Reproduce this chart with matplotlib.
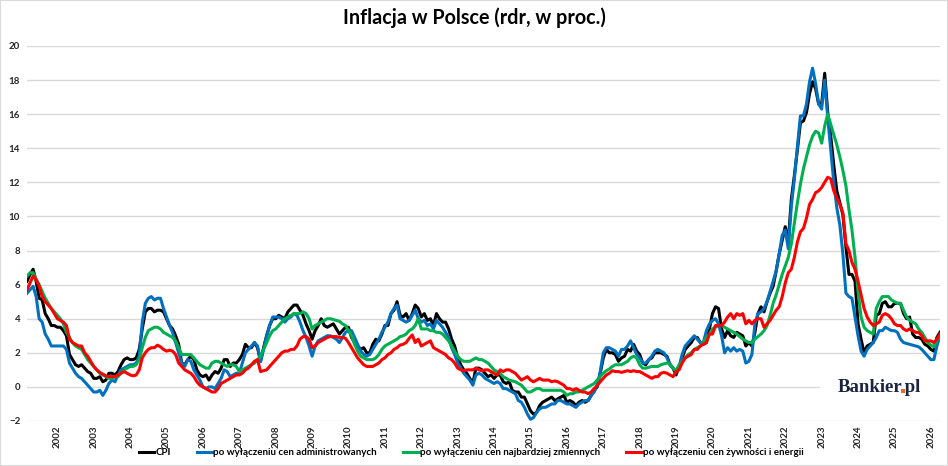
import numpy as np
import matplotlib.pyplot as plt
from matplotlib.patches import Rectangle
from matplotlib.textpath import TextPath
from matplotlib.font_manager import FontProperties

plt.rcParams['font.family'] = ['Lato', 'DejaVu Sans']
plt.rcParams['font.weight'] = 'bold'

# dane miesięczne od 03.2001 do 04.2026 (rdr, %)
cpi = [6.2, 6.6, 6.9, 6.2, 5.2, 5.1, 4.3, 4.0, 3.6, 3.6,
       3.5, 3.5, 3.3, 3.0, 1.9, 1.6, 1.3, 1.2, 1.3, 1.1, 0.9, 0.8,
       0.5, 0.5, 0.6, 0.3, 0.4, 0.8, 0.8, 0.7, 0.9, 1.3, 1.6, 1.7,
       1.6, 1.6, 1.7, 2.2, 3.4, 4.4, 4.6, 4.6, 4.4, 4.5, 4.5, 4.4,
       4.0, 3.6, 3.4, 3.0, 2.5, 1.4, 1.3, 1.6, 1.8, 1.6, 1.0, 0.7,
       0.6, 0.7, 0.4, 0.7, 0.9, 0.8, 1.1, 1.6, 1.6, 1.2, 1.4, 1.4,
       1.6, 1.9, 2.5, 2.3, 2.3, 2.6, 2.3, 1.5, 2.3, 3.0, 3.6, 4.0,
       4.0, 4.2, 4.1, 4.0, 4.4, 4.6, 4.8, 4.8, 4.5, 4.2, 3.7, 3.3,
       2.8, 3.3, 3.6, 4.0, 3.6, 3.5, 3.6, 3.7, 3.4, 3.1, 3.3, 3.5,
       3.5, 2.9, 2.6, 2.4, 2.2, 2.3, 2.0, 2.0, 2.5, 2.8, 2.7, 3.1,
       3.6, 3.6, 4.3, 4.5, 5.0, 4.2, 4.1, 4.3, 3.9, 4.3, 4.8, 4.6,
       4.1, 4.3, 3.9, 4.0, 3.6, 4.3, 4.0, 3.8, 3.8, 3.4, 2.8, 2.4,
       1.7, 1.3, 1.0, 0.8, 0.5, 0.2, 1.1, 1.1, 1.0, 0.8, 0.6, 0.7,
       0.5, 0.7, 0.7, 0.3, 0.2, 0.3, -0.2, -0.3, -0.3, -0.6, -0.6, -1.0,
       -1.4, -1.6, -1.5, -1.1, -0.9, -0.8, -0.7, -0.6, -0.8, -0.7, -0.6, -0.5,
       -0.9, -0.8, -0.9, -1.1, -0.9, -0.8, -0.9, -0.8, -0.5, -0.2, 0.0, 0.8,
       1.7, 2.2, 2.0, 2.0, 1.9, 1.5, 1.7, 1.8, 2.2, 2.1, 2.5, 2.1,
       1.9, 1.4, 1.3, 1.6, 1.7, 2.0, 2.0, 2.0, 1.9, 1.8, 1.3, 1.1,
       0.7, 1.2, 1.7, 2.2, 2.4, 2.6, 2.9, 2.9, 2.6, 2.5, 2.6, 3.4,
       4.3, 4.7, 4.6, 3.4, 2.9, 3.3, 3.0, 2.9, 3.2, 3.1, 3.0, 2.4,
       2.6, 2.4, 3.2, 4.3, 4.7, 4.4, 5.0, 5.5, 5.9, 6.8, 7.8, 8.6,
       9.4, 8.5, 11.0, 12.4, 13.9, 15.5, 15.6, 16.1, 17.2, 17.9, 17.5, 16.6,
       16.6, 18.4, 16.1, 14.7, 13.0, 11.5, 10.8, 10.1, 8.2, 6.6, 6.6, 6.2,
       3.7, 2.8, 2.0, 2.4, 2.5, 2.6, 4.2, 4.3, 4.9, 5.0, 4.7, 4.7,
       4.9, 4.9, 4.9, 4.3, 4.0, 4.1, 3.1, 2.9, 2.9, 2.8, 2.5, 2.4,
       2.2, 2.1, 2.9, 3.2]

bez_admin = [5.5, 5.7, 5.9, 5.3, 4.0, 3.8, 3.1, 2.8, 2.4, 2.4,
             2.4, 2.4, 2.4, 2.2, 1.4, 1.1, 0.8, 0.6, 0.5, 0.3, 0.1, -0.1,
             -0.3, -0.3, -0.2, -0.5, -0.2, 0.2, 0.4, 0.3, 0.7, 1.0, 1.1, 1.2,
             1.3, 1.3, 1.4, 1.8, 3.8, 4.9, 5.2, 5.3, 5.1, 5.2, 5.2, 4.6,
             4.1, 3.6, 3.2, 2.6, 2.0, 1.4, 1.2, 1.6, 1.5, 1.0, 0.7, 0.4,
             0.0, -0.1, 0.0, 0.0, -0.1, 0.2, 0.5, 1.0, 0.9, 0.6, 0.7, 0.8,
             0.8, 1.4, 2.0, 2.2, 2.4, 2.6, 2.4, 1.5, 2.2, 3.0, 3.6, 4.1,
             4.1, 4.1, 4.0, 3.8, 4.0, 4.1, 4.3, 4.2, 3.8, 3.3, 2.9, 2.4,
             1.8, 2.4, 2.7, 2.8, 2.9, 3.0, 3.0, 2.9, 2.8, 2.6, 2.9, 3.2,
             3.3, 3.3, 2.9, 2.5, 2.1, 1.9, 1.8, 1.9, 2.2, 2.5, 2.8, 3.2,
             3.5, 3.8, 4.3, 4.6, 4.8, 4.0, 3.9, 3.8, 3.9, 4.2, 4.5, 4.0,
             3.8, 3.9, 3.6, 3.7, 3.4, 3.9, 3.7, 3.5, 3.2, 2.9, 2.3, 1.9,
             1.4, 1.1, 0.8, 0.6, 0.4, 0.1, 0.7, 0.8, 0.7, 0.5, 0.4, 0.3,
             0.2, 0.3, 0.2, -0.1, -0.1, -0.2, -0.3, -0.4, -0.8, -0.9, -1.2, -1.6,
             -1.9, -1.8, -1.5, -1.3, -1.2, -1.2, -1.1, -1.0, -1.0, -0.8, -0.8, -0.9,
             -1.0, -1.0, -1.1, -1.2, -1.0, -0.9, -0.8, -0.8, -0.5, -0.3, 0.1, 0.9,
             2.0, 2.3, 2.3, 2.2, 2.1, 1.8, 2.2, 2.2, 2.4, 2.7, 2.3, 1.9,
             1.7, 1.4, 1.4, 1.6, 1.8, 2.1, 2.2, 2.1, 2.0, 1.7, 1.3, 1.1,
             0.9, 1.2, 1.9, 2.4, 2.6, 2.8, 3.0, 2.8, 2.6, 2.6, 3.3, 3.7,
             3.9, 4.0, 3.7, 3.0, 2.0, 2.3, 2.1, 2.3, 2.1, 2.2, 2.1, 1.4,
             1.5, 1.9, 3.7, 4.3, 4.4, 4.6, 5.0, 5.6, 6.2, 6.8, 7.8, 8.9,
             9.2, 8.1, 10.6, 12.2, 14.1, 15.9, 15.9, 16.6, 17.9, 18.7, 17.8, 16.6,
             16.3, 18.0, 15.8, 13.9, 12.0, 10.5, 9.5, 7.8, 5.5, 5.3, 5.2, 4.1,
             3.0, 2.1, 1.8, 2.2, 2.4, 2.6, 2.9, 3.3, 3.3, 3.5, 3.4, 3.3,
             3.3, 3.2, 2.8, 2.6, 2.55, 2.5, 2.45, 2.4, 2.35, 2.2, 2.0, 1.8,
             1.6, 1.6, 2.4, 3.0]

bez_zmiennych = [6.5, 6.7, 6.7, 6.3, 6.0, 5.6, 5.2, 4.9, 4.6, 4.4,
                 4.2, 4.0, 3.7, 3.2, 2.9, 2.6, 2.4, 2.3, 2.2, 1.9, 1.6, 1.4,
                 1.2, 1.0, 0.8, 0.7, 0.6, 0.5, 0.5, 0.6, 0.6, 0.8, 1.0, 1.1,
                 1.2, 1.2, 1.3, 1.6, 2.3, 2.9, 3.3, 3.4, 3.5, 3.5, 3.4, 3.2,
                 3.1, 3.0, 2.9, 2.7, 2.3, 1.9, 1.9, 1.9, 1.9, 1.7, 1.5, 1.3,
                 1.2, 1.1, 1.1, 1.4, 1.5, 1.5, 1.4, 1.3, 1.2, 1.3, 1.3, 1.2,
                 0.9, 1.0, 1.1, 1.2, 1.3, 1.4, 1.6, 1.8, 2.2, 2.6, 3.0, 3.3,
                 3.4, 3.6, 3.8, 4.0, 4.1, 4.2, 4.3, 4.3, 4.3, 4.4, 4.3, 4.0,
                 3.4, 3.6, 3.7, 3.8, 3.9, 4.0, 4.0, 3.95, 3.9, 3.85, 3.7, 3.6,
                 3.3, 3.0, 2.5, 2.1, 1.8, 1.7, 1.6, 1.6, 1.6, 1.7, 1.9, 2.2,
                 2.4, 2.5, 2.6, 2.7, 2.8, 2.95, 3.0, 3.1, 3.3, 3.4, 3.6, 4.0,
                 3.4, 3.4, 3.4, 3.3, 3.3, 3.2, 3.2, 3.1, 2.9, 2.7, 2.4, 2.1,
                 1.8, 1.6, 1.5, 1.5, 1.5, 1.6, 1.7, 1.6, 1.6, 1.5, 1.4, 1.2,
                 1.0, 0.9, 0.8, 0.6, 0.5, 0.4, 0.35, 0.3, 0.2, 0.1, -0.1, -0.3,
                 -0.3, -0.2, -0.1, -0.1, -0.2, -0.2, -0.2, -0.2, -0.2, -0.2, -0.2, -0.3,
                 -0.5, -0.4, -0.4, -0.3, -0.3, -0.2, -0.1, 0.0, 0.1, 0.2, 0.4, 0.6,
                 0.8, 0.95, 1.05, 1.2, 1.3, 1.3, 1.3, 1.4, 1.5, 1.7, 1.8, 1.7,
                 1.3, 1.1, 1.1, 1.15, 1.2, 1.2, 1.2, 1.3, 1.35, 1.4, 1.35, 1.1,
                 0.95, 1.3, 1.5, 1.7, 1.9, 2.0, 2.2, 2.3, 2.4, 2.6, 2.9, 3.1,
                 3.4, 3.5, 3.6, 3.6, 3.5, 3.4, 3.3, 3.2, 3.1, 2.95, 2.8, 2.7,
                 2.6, 2.6, 2.8, 2.95, 3.1, 3.3, 3.6, 4.2, 4.9, 5.4, 6.0, 6.6,
                 7.1, 7.6, 8.4, 9.6, 10.8, 11.9, 12.8, 13.5, 14.2, 14.7, 15.0, 14.9,
                 14.3, 15.3, 16.0, 15.4, 14.8, 14.2, 13.5, 12.7, 11.8, 10.4, 9.2, 7.6,
                 5.6, 4.1, 3.5, 3.3, 3.2, 3.1, 4.6, 5.0, 5.3, 5.3, 5.3, 5.1,
                 5.0, 4.9, 4.9, 4.5, 4.1, 3.9, 3.8, 3.7, 3.4, 3.2, 2.9, 2.6,
                 2.45, 2.35, 2.75, 2.95]

bez_zywn_energii = [5.7, 6.1, 6.5, 6.3, 5.9, 5.3, 5.0, 4.8, 4.6, 4.3,
                    4.0, 3.9, 3.8, 3.6, 2.8, 2.6, 2.5, 2.4, 2.4, 2.0, 1.8, 1.5,
                    1.2, 1.0, 0.85, 0.75, 0.65, 0.6, 0.6, 0.6, 0.7, 0.8, 0.9, 0.8,
                    0.7, 0.65, 0.7, 1.0, 1.7, 2.0, 2.2, 2.3, 2.3, 2.45, 2.35, 2.2,
                    2.1, 2.15, 2.1, 1.9, 1.4, 1.2, 1.0, 0.9, 0.8, 0.6, 0.3, 0.1,
                    0.0, -0.1, -0.2, -0.3, -0.3, -0.1, 0.2, 0.3, 0.4, 0.5, 0.6, 0.7,
                    0.7, 0.8, 1.0, 1.1, 1.3, 1.5, 1.6, 0.9, 0.95, 1.0, 1.2, 1.4,
                    1.6, 1.8, 2.0, 2.1, 2.1, 2.2, 2.2, 2.4, 2.8, 2.95, 2.95, 2.8,
                    2.3, 2.4, 2.6, 2.7, 2.8, 2.9, 2.95, 2.95, 2.95, 2.9, 2.9, 2.85,
                    2.6, 2.3, 2.0, 1.7, 1.5, 1.3, 1.2, 1.2, 1.2, 1.3, 1.4, 1.6,
                    1.7, 1.9, 2.0, 2.2, 2.3, 2.45, 2.5, 2.6, 2.85, 3.05, 2.6, 2.8,
                    2.4, 2.5, 2.6, 2.7, 2.3, 2.2, 2.1, 2.0, 1.9, 1.7, 1.6, 1.4,
                    1.1, 1.0, 0.95, 1.0, 1.0, 1.0, 1.1, 1.0, 0.95, 1.0, 1.0, 0.9,
                    0.8, 0.7, 1.0, 0.9, 1.0, 1.0, 0.9, 0.8, 0.6, 0.4, 0.5, 0.6,
                    0.4, 0.3, 0.4, 0.5, 0.4, 0.4, 0.4, 0.3, 0.35, 0.3, 0.2, 0.1,
                    -0.1, -0.1, -0.2, -0.1, -0.2, -0.3, -0.3, -0.4, -0.3, -0.1, 0.1, 0.3,
                    0.5, 0.7, 0.8, 0.95, 0.9, 0.9, 0.85, 0.9, 0.95, 0.9, 0.95, 0.9,
                    0.9, 0.8, 0.7, 0.6, 0.5, 0.6, 0.6, 0.8, 0.85, 0.8, 0.7, 0.6,
                    0.9, 1.0, 1.4, 1.7, 1.8, 1.9, 2.2, 2.2, 2.4, 2.5, 2.6, 3.1,
                    3.1, 3.6, 3.6, 3.6, 3.8, 4.1, 4.3, 4.0, 4.3, 4.2, 4.3, 3.7,
                    3.9, 3.7, 3.9, 4.0, 4.0, 3.5, 3.7, 3.9, 4.2, 4.5, 4.7, 5.3,
                    6.1, 6.7, 6.9, 7.6, 8.5, 9.1, 9.3, 9.9, 10.7, 11.0, 11.4, 11.5,
                    11.7, 12.0, 12.3, 12.2, 11.5, 11.1, 10.7, 10.2, 8.4, 8.0, 7.3, 6.9,
                    6.2, 5.4, 4.6, 4.1, 3.8, 3.6, 3.7, 3.8, 4.2, 4.3, 4.2, 4.0,
                    3.7, 3.6, 3.6, 3.4, 3.3, 3.4, 3.3, 3.2, 3.2, 3.0, 2.7, 2.7,
                    2.7, 2.6, 2.8, 3.1]

nazwy = ['CPI', 'po wyłączeniu cen administrowanych',
         'po wyłączeniu cen najbardziej zmiennych',
         'po wyłączeniu cen żywności i energii']
kolory = ['#000000', '#0070C0', '#00B050', '#FF0000']
lata = list(range(2002, 2027))

x = 2001 + 2 / 12 + np.arange(len(cpi)) / 12

fig = plt.figure(figsize=(9.48, 4.66), dpi=100)
ax = fig.add_axes([0.0285, 0.0966, 0.963, 0.8047])

for seria, nazwa, kolor in zip([cpi, bez_admin, bez_zmiennych, bez_zywn_energii], nazwy, kolory):
    ax.plot(x, seria, color=kolor, lw=2.2, label=nazwa, solid_joinstyle='round')

ax.set_xlim(x[0], x[-1])
ax.set_ylim(-2, 20)
ax.set_yticks(range(-2, 21, 2))
ax.set_xticks(lata)
ax.set_xticklabels([str(r) for r in lata], rotation=90, fontsize=7, fontweight='bold', color='#262626')
ax.tick_params(axis='y', labelsize=7, colors='#262626', length=0, pad=5)
ax.tick_params(axis='x', length=0, pad=3)
for lab in ax.get_yticklabels():
    lab.set_fontweight('bold')
ax.grid(axis='y', color='#d9d9d9', lw=1)
ax.set_axisbelow(True)
for s in ax.spines.values():
    s.set_visible(False)

fig.suptitle('Inflacja w Polsce (rdr, w proc.)', y=0.963, fontsize=14.2, fontweight='bold', va='center')

fig.legend(loc='center', bbox_to_anchor=(0.497, 0.028), ncol=4, frameon=False,
           fontsize=7.0, handlelength=1.6, handletextpad=0.1, columnspacing=2.7)

# logo: jeden napis, kropka przemalowana na pomarańczowo
fig.patches.append(Rectangle((0.865, 0.14), 0.13, 0.07, transform=fig.transFigure,
                             facecolor='white', edgecolor='none', zorder=5))
x_logo, y_logo = 0.884, 0.159
fp = FontProperties(family='Liberation Serif', weight='bold', size=13.5)
napis = fig.text(x_logo, y_logo, 'Bankier.pl', color='#1b2440', zorder=6,
                 fontproperties=fp, va='baseline')
fig.canvas.draw()
r = fig.canvas.get_renderer()
W, H = fig.bbox.width, fig.bbox.height
skala = fig.dpi / 72
ext_all = TextPath((0, 0), 'Bankier.pl', prop=fp).get_extents()
ext_a = TextPath((0, 0), 'Bankier.', prop=fp).get_extents()
ext_d = TextPath((0, 0), '.', prop=fp).get_extents()
x0_px = napis.get_window_extent(r).x0
d_right = x0_px + (ext_a.x1 - ext_all.x0) * skala
d_w = ext_d.width * skala
d_y0 = y_logo * H + ext_d.y0 * skala
d_h = ext_d.height * skala
fig.patches.append(Rectangle(((d_right - d_w - 0.5) / W, (d_y0 - 0.5) / H),
                             (d_w + 1.0) / W, (d_h + 1.0) / H,
                             transform=fig.transFigure, facecolor='#e8692c',
                             edgecolor='none', zorder=7))

fig.patches.append(Rectangle((0, 0), 1, 1, transform=fig.transFigure, fill=False,
                             edgecolor='#d9d9d9', lw=1.5))

fig.savefig('out.png', dpi=100)
